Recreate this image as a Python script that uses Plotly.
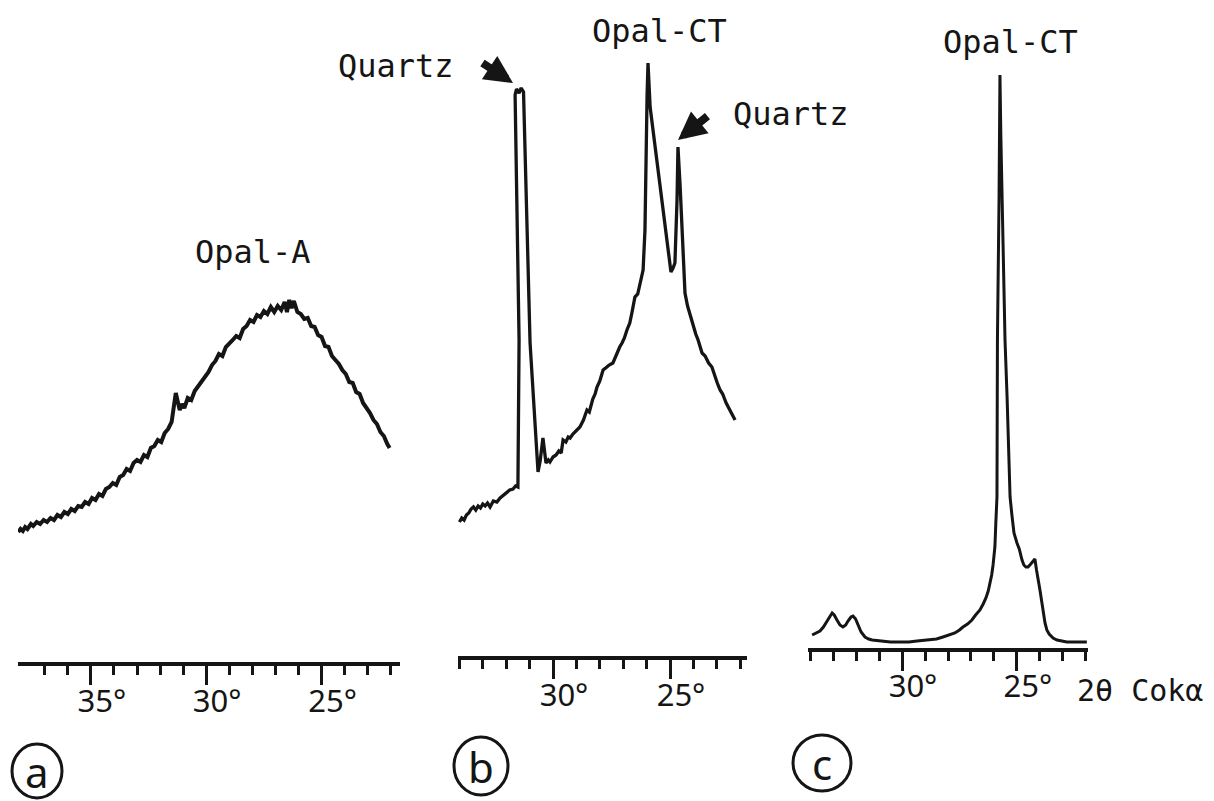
import plotly.graph_objects as go

# page body keeps an 8px margin: size the figure so it ends exactly at the window edge
VIEW_W, VIEW_H = 1214, 801
OX, OY = 8, 8
W, H = VIEW_W - OX, VIEW_H - OY
INK = "#151515"

# ---------------- data (2-theta in degrees, intensity in arbitrary counts) ----------------
# (a) Opal-A : broad amorphous hump
a_2theta = [38.15, 38.05, 37.95, 37.85, 37.75, 37.6, 37.5, 37.35, 37.2, 37.05, 36.9, 36.75, 36.6,
            36.45, 36.3, 36.15, 36.0, 35.85, 35.7, 35.55, 35.4, 35.25, 35.1, 34.95, 34.8, 34.65,
            34.5, 34.35, 34.2, 34.05, 33.9, 33.75, 33.6, 33.45, 33.3, 33.15, 33.0, 32.85, 32.7,
            32.55, 32.4, 32.25, 32.1, 31.95, 31.8, 31.65, 31.5, 31.4, 31.32, 31.25, 31.15, 31.05,
            30.95, 30.8, 30.65, 30.5, 30.35, 30.2, 30.05, 29.9, 29.75, 29.6, 29.45, 29.3, 29.15,
            29.0, 28.85, 28.7, 28.55, 28.4, 28.25, 28.1, 27.95, 27.8, 27.65, 27.5, 27.35, 27.2,
            27.05, 26.9, 26.75, 26.6, 26.5, 26.4, 26.3, 26.2, 26.05, 25.9, 25.75, 25.6, 25.45,
            25.3, 25.15, 25.0, 24.85, 24.7, 24.55, 24.4, 24.25, 24.1, 23.95, 23.8, 23.65, 23.5,
            23.35, 23.2, 23.05, 22.9, 22.75, 22.6, 22.45, 22.3, 22.15, 22.05]
a_counts = [130, 133, 131, 135, 133, 138, 136, 140, 138, 142, 140, 144, 142,
            147, 145, 150, 148, 153, 151, 156, 155, 160, 158, 164, 162, 168,
            166, 173, 175, 179, 177, 185, 187, 193, 191, 199, 202, 200, 207,
            205, 214, 216, 222, 220, 229, 233, 240, 255, 269, 262, 252, 258,
            254, 264, 262, 271, 276, 281, 286, 290, 297, 301, 308, 306, 315,
            318, 322, 326, 324, 333, 336, 342, 340, 347, 345, 351, 348, 355,
            350, 356, 352, 360, 350, 362, 354, 361, 350, 348, 343, 344, 336,
            335, 327, 325, 316, 315, 306, 302, 298, 292, 288, 280, 279, 270,
            268, 259, 254, 249, 242, 238, 230, 226, 218, 214]

# (b) Opal-CT with quartz
b_2theta = [34.0, 33.9, 33.8, 33.7, 33.6, 33.5, 33.4, 33.3, 33.2, 33.1, 33.0, 32.9, 32.8, 32.69,
            32.55, 32.4, 32.26, 32.1, 31.97, 31.85, 31.71, 31.6, 31.5,
            31.45, 31.62, 31.56, 31.45, 31.36, 31.26, 30.98, 30.64,
            30.55, 30.43, 30.3, 30.2, 30.13, 30.0, 29.87, 29.75, 29.65, 29.57, 29.45, 29.35, 29.27,
            29.15, 29.0, 28.85, 28.7, 28.55, 28.45, 28.3, 28.2, 28.12, 28.0, 27.86, 27.75, 27.6,
            27.44, 27.3, 27.15, 27.05, 26.95, 26.84, 26.72, 26.63, 26.5, 26.38, 26.25, 26.15,
            26.07, 26.03, 25.98, 25.94, 25.85, 25.64, 25.43, 25.21, 25.0, 24.96, 24.87, 24.79,
            24.7, 24.66, 24.57, 24.49, 24.36, 24.25, 24.15, 24.02, 23.9, 23.8, 23.63, 23.5,
            23.35, 23.21, 23.1, 22.98, 22.86, 22.75, 22.6, 22.44, 22.3, 22.22]
b_counts = [134, 138, 136, 141, 143, 147, 149, 146, 150, 148, 152, 150, 153, 149,
            155, 154, 158, 161, 163, 166, 167, 170, 169,
            316, 561, 567, 563, 568, 564, 313, 184,
            195, 218, 193, 196, 194, 199, 201, 205, 203, 216, 214, 219, 218,
            222, 225, 229, 236, 246, 244, 257, 262, 269, 275, 286, 288, 291,
            293, 301, 309, 313, 318, 326, 333, 343, 359, 362, 376, 386,
            426, 506, 561, 593, 549, 510, 471, 432, 393, 384, 388, 393,
            456, 509, 471, 433, 363, 350, 342, 329, 322, 316, 303, 300,
            293, 289, 280, 273, 266, 262, 253, 246, 240, 236]

# (c) well ordered Opal-CT
c_2theta = [33.91, 33.75, 33.57, 33.42, 33.3, 33.15, 33.04, 32.95, 32.83, 32.7, 32.57, 32.45,
            32.35, 32.22, 32.13, 32.02, 31.91, 31.78, 31.61, 31.45, 31.3, 30.96, 30.5, 30.09,
            29.7, 29.35, 28.78, 28.5, 28.22, 27.95, 27.7, 27.5, 27.35, 27.15, 26.96, 26.8,
            26.61, 26.47, 26.35, 26.25, 26.17, 26.1, 26.04, 25.99, 25.96, 25.92, 25.87, 25.86,
            25.85, 25.78, 25.74, 25.7, 25.65, 25.58, 25.52, 25.43, 25.36, 25.3, 25.22, 25.13,
            25.0, 24.9, 24.78, 24.7, 24.61, 24.52, 24.4, 24.3, 24.22, 24.15, 24.09, 24.0, 23.9,
            23.78, 23.7, 23.6, 23.43, 23.26, 22.83, 22.5, 21.96]
c_counts = [13, 15, 17, 21, 25, 31, 35, 33, 28, 23, 21, 23,
            27, 31, 32, 29, 23, 16, 11, 9, 8, 7, 6, 6,
            6, 7, 8, 9, 11, 13, 15, 18, 21, 24, 28, 33,
            38, 44, 50, 57, 65, 73, 83, 95, 101, 125, 151, 230,
            308, 448, 573, 511, 448, 378, 308, 251, 195, 151, 133, 115,
            105, 99, 88, 83, 81, 81, 84, 87, 89, 78, 71, 58, 43,
            25, 18, 14, 10, 8, 6, 6, 6]

a_major = [35, 30, 25]
a_minor = [37, 36, 34, 33, 32, 31, 29, 28, 27, 26, 24, 23, 22]
bc_major = [30, 25]
bc_minor = [34, 33, 32, 31, 29, 28, 27, 26, 24, 23, 22]

TICK_FONT = dict(family="Noto Sans", size=31, color=INK)
LABEL_FONT = dict(family="DejaVu Sans Mono", size=32, color=INK)


def fx(px):
    return (px - OX) / W


def fy(py):
    return 1 - (py - OY) / H


def xaxis_style(dom_px, rng, major, minor, standoff):
    return dict(
        domain=[fx(dom_px[0]), fx(dom_px[1])], range=rng,
        showline=True, linewidth=3.5, linecolor=INK,
        tickmode="array", tickvals=major, ticktext=[f"{v}°" for v in major],
        ticks="outside", ticklen=19, tickwidth=3, tickcolor=INK,
        tickfont=TICK_FONT, ticklabelstandoff=standoff, ticklabelshift=-11,
        minor=dict(tickmode="array", tickvals=minor, ticks="outside",
                   ticklen=9, tickwidth=3, tickcolor=INK, showgrid=False),
        showgrid=False, zeroline=False, fixedrange=True,
    )


def yaxis_style(base_px):
    # one intensity unit per pixel, zero on the drawn axis line
    return dict(domain=[fy(base_px), 1], range=[0, base_px - OY], visible=False,
                showgrid=False, zeroline=False, fixedrange=True)


fig = go.Figure()
fig.add_trace(go.Scatter(x=a_2theta, y=a_counts, xaxis="x", yaxis="y", mode="lines",
                         line=dict(color=INK, width=4), hoverinfo="skip"))
fig.add_trace(go.Scatter(x=b_2theta, y=b_counts, xaxis="x2", yaxis="y2", mode="lines",
                         line=dict(color=INK, width=3.3), hoverinfo="skip"))
fig.add_trace(go.Scatter(x=c_2theta, y=c_counts, xaxis="x3", yaxis="y3", mode="lines",
                         line=dict(color=INK, width=3.0), hoverinfo="skip"))

fig.update_layout(
    width=W, height=H, margin=dict(l=0, r=0, t=0, b=0),
    paper_bgcolor="white", plot_bgcolor="white", showlegend=False,
    xaxis=dict(anchor="y", **xaxis_style((18, 400), [38.16, 21.6], a_major, a_minor, -10)),
    yaxis=dict(anchor="x", **yaxis_style(662)),
    xaxis2=dict(anchor="y2", **xaxis_style((458, 747), [34.06, 21.71], bc_major, bc_minor, -10)),
    yaxis2=dict(anchor="x2", **yaxis_style(656)),
    xaxis3=dict(anchor="y3", **xaxis_style((808, 1088), [34.09, 21.91], bc_major, bc_minor, -11)),
    yaxis3=dict(anchor="x3", **yaxis_style(648)),
)

ann = []
# phase labels
ann.append(dict(text="Opal-A", x=27.97, y=410, xref="x", yref="y", showarrow=False,
                font=LABEL_FONT, xanchor="center", yanchor="middle"))
ann.append(dict(text="Opal-CT", x=25.47, y=625, xref="x2", yref="y2", showarrow=False,
                font=LABEL_FONT, xanchor="center", yanchor="middle"))
ann.append(dict(text="Opal-CT", x=25.26, y=606, xref="x3", yref="y3", showarrow=False,
                font=LABEL_FONT, xanchor="center", yanchor="middle"))
ann.append(dict(text="Quartz", x=fx(396), y=fy(66), xref="paper", yref="paper", showarrow=False,
                font=LABEL_FONT, xanchor="center", yanchor="middle"))
ann.append(dict(text="Quartz", x=fx(791), y=fy(114), xref="paper", yref="paper", showarrow=False,
                font=LABEL_FONT, xanchor="center", yanchor="middle"))
# arrows pointing at the quartz reflections
ann.append(dict(text="", x=31.71, y=573, xref="x2", yref="y2", showarrow=True,
                ax=-32, ay=-21, arrowhead=2, arrowsize=0.7, arrowwidth=8, arrowcolor=INK))
ann.append(dict(text="", x=24.66, y=516, xref="x2", yref="y2", showarrow=True,
                ax=31, ay=-25, arrowhead=2, arrowsize=0.7, arrowwidth=8, arrowcolor=INK))
# axis title
ann.append(dict(text="2θ Cokα", x=fx(1075), y=fy(690), xref="paper", yref="paper",
                showarrow=False, font=dict(family="DejaVu Sans Mono", size=30, color=INK),
                xanchor="left", yanchor="middle"))

# circled panel letters
panels = [("a", 37, 771, 25, 27), ("b", 481, 766, 27, 29), ("c", 822, 763, 29, 28)]
shapes = []
for letter, cx, cy, rx, ry in panels:
    shapes.append(dict(type="circle", xref="paper", yref="paper",
                       x0=fx(cx - rx), x1=fx(cx + rx), y0=fy(cy + ry), y1=fy(cy - ry),
                       line=dict(color=INK, width=3)))
    ann.append(dict(text=letter, x=fx(cx), y=fy(cy), xref="paper", yref="paper",
                    showarrow=False, font=dict(family="Noto Sans", size=42, color=INK),
                    xanchor="center", yanchor="middle"))

fig.update_layout(annotations=ann, shapes=shapes)
fig.write_html("out.html")
